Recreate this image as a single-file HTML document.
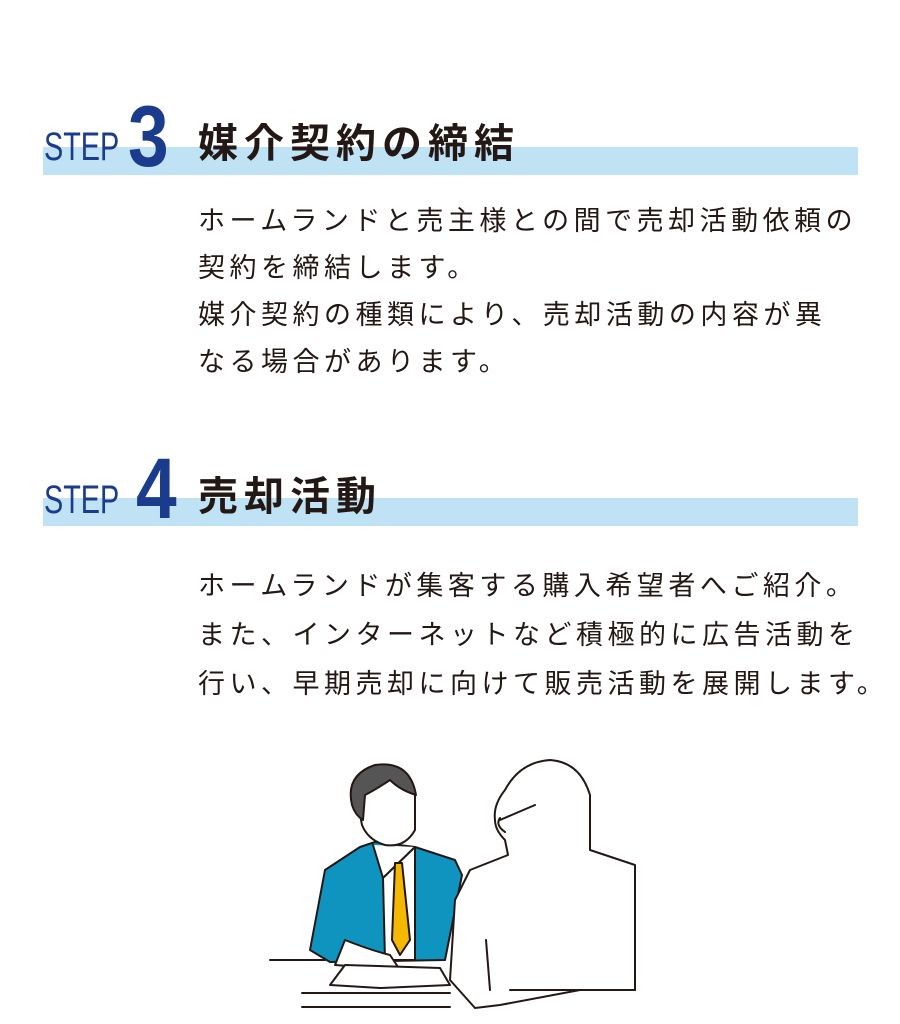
<!DOCTYPE html>
<html><head><meta charset="utf-8"><style>
body{margin:0;width:900px;height:1024px;background:#fff;position:relative;overflow:hidden;font-family:"Liberation Sans","Noto Sans CJK JP",sans-serif;color:#231815}
.band{position:absolute;left:43px;width:815px;height:28px;background:#bfe3f5}
.step{position:absolute;color:#1b3c8c;font-family:"Liberation Sans",sans-serif;line-height:1}
.title{position:absolute;left:198px;font-size:40px;font-weight:bold;letter-spacing:6px;line-height:1}
.body{position:absolute;left:198px;font-size:27px;letter-spacing:4.5px;white-space:nowrap}
</style></head><body>
<div class="band" style="top:147px"></div>
<div class="step" style="left:44px;top:127px;font-size:40px;transform:scaleX(0.72);transform-origin:left">STEP</div>
<div class="step" style="left:128px;top:94px;font-size:86px;font-weight:bold;transform:scaleX(0.85);transform-origin:left">3</div>
<div class="title" style="top:124px">媒介契約の締結</div>
<div class="body" style="top:198px;line-height:47px">ホームランドと売主様との間で売却活動依頼の<br>契約を締結します。<br>媒介契約の種類により、売却活動の内容が異<br>なる場合があります。</div>

<div class="band" style="top:498px"></div>
<div class="step" style="left:44px;top:480px;font-size:40px;transform:scaleX(0.72);transform-origin:left">STEP</div>
<div class="step" style="left:136px;top:446px;font-size:86px;font-weight:bold;transform:scaleX(0.85);transform-origin:left">4</div>
<div class="title" style="top:477px">売却活動</div>
<div class="body" style="top:562px;line-height:49px">ホームランドが集客する購入希望者へご紹介。<br>また、インターネットなど積極的に広告活動を<br>行い、早期売却に向けて販売活動を展開します。</div>

<svg style="position:absolute;left:250px;top:750px" width="400" height="274" viewBox="0 0 400 274" fill="none" stroke="#231815" stroke-width="2" stroke-linejoin="round" stroke-linecap="round">
<path d="M60 200 L75 120 L110 97 L125 92 L165 97 L205 110 L212 125 L195 210 L80 212 Z" fill="#0f94c0"/>
<path d="M123 95 L133 128 L165 97" fill="#fff"/>
<path d="M133 128 L135 210 L165 210 L165 97 Z" fill="#fff"/>
<path d="M145 113 L152 113 L160 190 L150 205 L142 190 Z" fill="#f5b800"/>
<path d="M105 40 Q115 20 140 20 Q162 25 165 45 L165 80 Q155 98 135 95 Q118 90 112 75 Z" fill="#fff"/>
<path d="M102 55 Q95 25 125 15 Q160 10 166 45 Q150 40 140 30 Q125 40 115 45 L113 70 Q105 65 102 55Z" fill="#555"/>
<path d="M95 190 Q120 200 140 205 L150 220 L85 215 Z" fill="#fff"/>
<path d="M20 210 L75 210"/>
<path d="M80 235 L95 215 L190 218 L200 235 L130 238 Z" fill="#fff"/>
<path d="M52 243 L200 243 M52 257 L200 257"/>
<path d="M255 40 Q270 12 300 10 Q330 12 340 45 L340 100 L385 115 L385 240 L330 240 L250 255 L225 258 L200 230 L205 150 L220 120 L258 105 L255 90 Q245 80 245 70 Q243 55 255 40Z" fill="#fff"/>
<path d="M250 70 L285 55 M250 68 Q245 75 255 82"/>
<path d="M236 190 L240 240 M260 240 L385 240"/>
</svg>
</body></html>
